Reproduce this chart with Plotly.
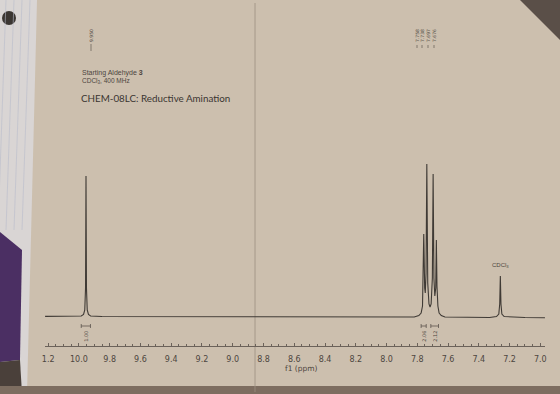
import plotly.graph_objects as go

# ---- data (chemical shift in ppm, intensity in arbitrary units) ----
aldehyde_ppm = [10.06, 9.985, 9.970, 9.962, 9.957, 9.954, 9.951, 9.946, 9.938, 9.924, 9.85]
aldehyde_int = [1.5, 2.0, 3.5, 8.0, 30.0, 142.0, 30.0, 8.0, 3.5, 2.0, 1.5]

aromatic_ppm = [7.82, 7.790, 7.775, 7.766, 7.762, 7.758, 7.752, 7.748, 7.743, 7.738, 7.732,
                7.724, 7.717, 7.710, 7.702, 7.697, 7.692, 7.686, 7.680, 7.676, 7.672,
                7.666, 7.658, 7.644, 7.62]
aromatic_int = [1.0, 2.5, 5.0, 12.0, 35.0, 84.0, 30.0, 25.0, 45.0, 154.0, 35.0,
                14.0, 11.0, 14.0, 40.0, 144.0, 40.0, 22.0, 30.0, 78.0, 32.0,
                12.0, 5.0, 2.5, 1.0]

cdcl3_ppm = [7.33, 7.285, 7.270, 7.264, 7.260, 7.256, 7.250, 7.235, 7.10, 6.97]
cdcl3_int = [0.5, 1.5, 4.0, 14.0, 42.0, 14.0, 4.0, 1.5, 0.5, 0.3]

baseline_left_ppm = [10.22, 10.15]
baseline_left_int = [1.6, 1.5]
baseline_mid_ppm = [9.5, 9.0, 8.5, 8.0]
baseline_mid_int = [1.3, 1.2, 1.1, 1.0]

peak_labels = ["9.950", "7.758", "7.738", "7.697", "7.676"]
integrals = [("1.00", 9.985, 9.925), ("2.06", 7.775, 7.742), ("2.12", 7.712, 7.662)]
tick_vals = [10.2, 10.0, 9.8, 9.6, 9.4, 9.2, 9.0, 8.8, 8.6, 8.4, 8.2, 8.0, 7.8, 7.6, 7.4, 7.2, 7.0]
tick_text = ["1.2", "10.0", "9.8", "9.6", "9.4", "9.2", "9.0", "8.8", "8.6", "8.4", "8.2",
             "8.0", "7.8", "7.6", "7.4", "7.2", "7.0"]

ppm = baseline_left_ppm + aldehyde_ppm + baseline_mid_ppm + aromatic_ppm + cdcl3_ppm
inten = baseline_left_int + aldehyde_int + baseline_mid_int + aromatic_int + cdcl3_int

# ---- layout geometry ----
W, H = 560, 394
L, R, T, B = 45, 15, 15, 48
PW, PH = W - L - R, H - T - B

def px(x):  # pixel -> paper x
    return (x - L) / PW

def py(y):  # pixel -> paper y
    return (H - B - y) / PH

ink = "#3f3a35"
txt = "#4d4640"

fig = go.Figure()
fig.add_trace(go.Scatter(x=ppm, y=inten, mode="lines",
                         line=dict(color=ink, width=1.1), hoverinfo="skip", showlegend=False))

shapes = []
# notebook paper on the left, purple folder, dark bottom strip, dark corner
shapes.append(dict(type="path", xref="paper", yref="paper", layer="below",
                   path=f"M {px(0)},{py(0)} L {px(37)},{py(0)} L {px(27)},{py(394)} L {px(0)},{py(394)} Z",
                   fillcolor="#d9d5d4", line=dict(width=0)))
shapes.append(dict(type="path", xref="paper", yref="paper", layer="below",
                   path=f"M {px(0)},{py(232)} L {px(22)},{py(250)} L {px(20)},{py(360)} L {px(0)},{py(362)} Z",
                   fillcolor="#4b2f63", line=dict(width=0)))
shapes.append(dict(type="path", xref="paper", yref="paper", layer="below",
                   path=f"M {px(0)},{py(362)} L {px(20)},{py(360)} L {px(22)},{py(394)} L {px(0)},{py(394)} Z",
                   fillcolor="#4a403a", line=dict(width=0)))
shapes.append(dict(type="rect", xref="paper", yref="paper", layer="below",
                   x0=px(0), x1=px(560), y0=py(386), y1=py(394),
                   fillcolor="#7d6d60", line=dict(width=0)))
shapes.append(dict(type="path", xref="paper", yref="paper", layer="below",
                   path=f"M {px(520)},{py(0)} L {px(560)},{py(0)} L {px(560)},{py(40)} Z",
                   fillcolor="#5a4f48", line=dict(width=0)))
shapes.append(dict(type="circle", xref="paper", yref="paper", layer="below",
                   x0=px(2), x1=px(16), y0=py(11), y1=py(25),
                   fillcolor="#3b3632", line=dict(width=0)))
for xl in [6, 14, 22, 30]:
    shapes.append(dict(type="line", xref="paper", yref="paper", layer="below",
                       x0=px(xl), x1=px(xl - 8), y0=py(0), y1=py(230),
                       line=dict(color="#b9bccb", width=0.6)))
# fold line of the sheet
shapes.append(dict(type="line", xref="paper", yref="paper", layer="below",
                   x0=px(255), x1=px(255), y0=py(3), y1=py(392),
                   line=dict(color="#9c8f82", width=0.8)))

annotations = []
# header text
annotations.append(dict(xref="paper", yref="paper", x=px(80), y=py(73), xanchor="left", yanchor="middle",
                        text="Starting Aldehyde <b>3</b>", showarrow=False,
                        font=dict(family="Liberation Sans", size=7, color=txt)))
annotations.append(dict(xref="paper", yref="paper", x=px(80), y=py(81), xanchor="left", yanchor="middle",
                        text="CDCl<sub>3</sub>, 400 MHz", showarrow=False,
                        font=dict(family="Liberation Sans", size=6.5, color=txt)))
annotations.append(dict(xref="paper", yref="paper", x=px(79), y=py(98), xanchor="left", yanchor="middle",
                        text="CHEM-08LC: Reductive Amination", showarrow=False,
                        font=dict(family="Lato", size=9.8, color="#3a3531")))
# solvent label
annotations.append(dict(xref="x", yref="paper", x=7.26, y=py(265), xanchor="center", yanchor="middle",
                        text="CDCl<sub>3</sub>", showarrow=False,
                        font=dict(family="Liberation Sans", size=6, color=txt)))
# axis title
annotations.append(dict(xref="x", yref="paper", x=8.55, y=py(368), xanchor="center", yanchor="middle",
                        text="f1 (ppm)", showarrow=False,
                        font=dict(family="DejaVu Sans", size=7.5, color=txt)))

# peak picking labels at the top
peak_pos_px = [91, 417, 422, 428, 434]
for lab, xp in zip(peak_labels, peak_pos_px):
    annotations.append(dict(xref="paper", yref="paper", x=px(xp), y=py(36), xanchor="center", yanchor="middle",
                            text=lab, textangle=-90, showarrow=False,
                            font=dict(family="DejaVu Sans", size=4.5, color=txt)))
shapes.append(dict(type="line", xref="paper", yref="paper", x0=px(91), x1=px(91), y0=py(44), y1=py(51),
                   line=dict(color=txt, width=0.6)))
for xp, ppk in zip(peak_pos_px[1:], peak_labels[1:]):
    shapes.append(dict(type="line", xref="paper", yref="paper", x0=px(xp), x1=px(xp), y0=py(45), y1=py(48),
                       line=dict(color=txt, width=0.6)))

# integration brackets and values
for lab, a, b in integrals:
    mid = (a + b) / 2
    shapes.append(dict(type="line", xref="x", yref="paper", x0=a, x1=b, y0=py(326), y1=py(326),
                       line=dict(color=txt, width=0.7)))
    for e in (a, b):
        shapes.append(dict(type="line", xref="x", yref="paper", x0=e, x1=e, y0=py(324), y1=py(328),
                           line=dict(color=txt, width=0.7)))
    annotations.append(dict(xref="x", yref="paper", x=mid, y=py(336), xanchor="center", yanchor="middle",
                            text=lab, textangle=-90, showarrow=False,
                            font=dict(family="DejaVu Sans", size=5, color=txt)))

fig.update_layout(
    width=W, height=H,
    margin=dict(l=L, r=R, t=T, b=B),
    paper_bgcolor="#ccbfae",
    plot_bgcolor="rgba(0,0,0,0)",
    shapes=shapes,
    annotations=annotations,
    showlegend=False,
    xaxis=dict(range=[10.2206, 6.9696], showgrid=False, zeroline=False,
               showline=True, linecolor="#6b625a", linewidth=1,
               ticks="inside", ticklen=3, tickcolor="#6b625a",
               tickvals=tick_vals, ticktext=tick_text, ticklabelstandoff=5,
               minor=dict(dtick=0.05, ticks="inside", ticklen=2, tickcolor="#6b625a"),
               tickfont=dict(family="DejaVu Sans", size=8, color=txt)),
    yaxis=dict(range=[-28, 303], visible=False, showgrid=False, zeroline=False),
)

fig.write_html("out.html")
